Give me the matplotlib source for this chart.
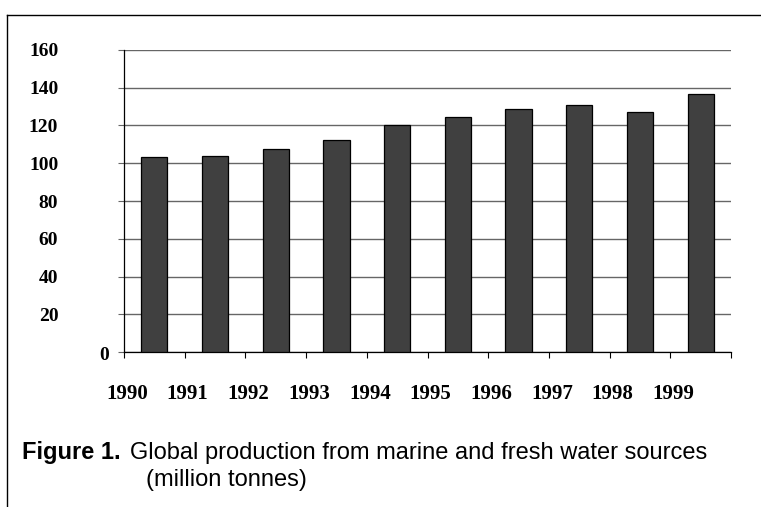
import matplotlib
matplotlib.use("Agg")
import matplotlib.pyplot as plt
import matplotlib.transforms as mtransforms
from matplotlib.lines import Line2D
import numpy as np

years = ["1990", "1991", "1992", "1993", "1994", "1995", "1996", "1997", "1998", "1999"]
production = [103.3, 104.0, 107.8, 112.1, 120.4, 124.3, 128.6, 130.9, 127.2, 136.5]
y_ticks = [0, 20, 40, 60, 80, 100, 120, 140, 160]

W, H = 761, 507
fig = plt.figure(figsize=(W / 100, H / 100), dpi=100)
ax = fig.add_axes([124 / W, (H - 352) / H, (731 - 124) / W, (352 - 50) / H])

x = np.arange(len(years))
ax.bar(x, production, width=0.43, color="#404040", edgecolor="black", linewidth=0.9, zorder=3)

ax.set_xlim(-0.5, len(years) - 0.5)
ax.set_ylim(0, 160)

# gridlines
ax.set_yticks(y_ticks)
ax.yaxis.grid(True, color="#666666", linewidth=1.0, zorder=0)
ax.set_axisbelow(True)

serif = ["Liberation Serif", "DejaVu Serif"]
ax.set_yticklabels([str(v) for v in y_ticks], fontfamily=serif, fontweight="bold", fontsize=14)
ax.tick_params(axis="y", length=4.3, width=0.8, color="#666666", pad=43)
# shift "0" label close to the axis
lbl0 = ax.get_yticklabels()[0]
lbl0.set_transform(lbl0.get_transform() + mtransforms.ScaledTranslation(51 / 100, -2 / 100, fig.dpi_scale_trans))

# x ticks: boundaries as major ticks, labels as minor ticks
ax.set_xticks(np.arange(-0.5, len(years), 1.0))
ax.set_xticklabels([""] * (len(years) + 1))
ax.tick_params(axis="x", which="major", length=4.5, width=0.8, color="black", direction="out")
ax.set_xticks(x - 0.45, minor=True)
ax.set_xticklabels(years, minor=True, fontfamily=serif, fontweight="bold", fontsize=15)
ax.tick_params(axis="x", which="minor", length=0, pad=23)

for s in ["top", "right"]:
    ax.spines[s].set_visible(False)
ax.spines["left"].set_color("black")
ax.spines["left"].set_linewidth(0.9)
ax.spines["bottom"].set_color("black")
ax.spines["bottom"].set_linewidth(0.9)

# outer frame (top and left lines)
fig.add_artist(Line2D([7 / W, 1.0], [1 - 15 / H, 1 - 15 / H], color="black", linewidth=1.0, transform=fig.transFigure))
fig.add_artist(Line2D([7 / W, 7 / W], [1 - 15 / H, 0.0], color="black", linewidth=1.0, transform=fig.transFigure))

sans = ["Liberation Sans", "DejaVu Sans"]
fig.text(22 / W, 1 - 459 / H, "Figure 1.", fontfamily=sans, fontweight="bold", fontsize=17, va="baseline", ha="left")
fig.text(130 / W, 1 - 459 / H, "Global production from marine and fresh water sources",
         fontfamily=sans, fontsize=17, va="baseline", ha="left")
fig.text(146 / W, 1 - 486 / H, "(million tonnes)", fontfamily=sans, fontsize=17, va="baseline", ha="left")

fig.savefig("out.png", dpi=100)
